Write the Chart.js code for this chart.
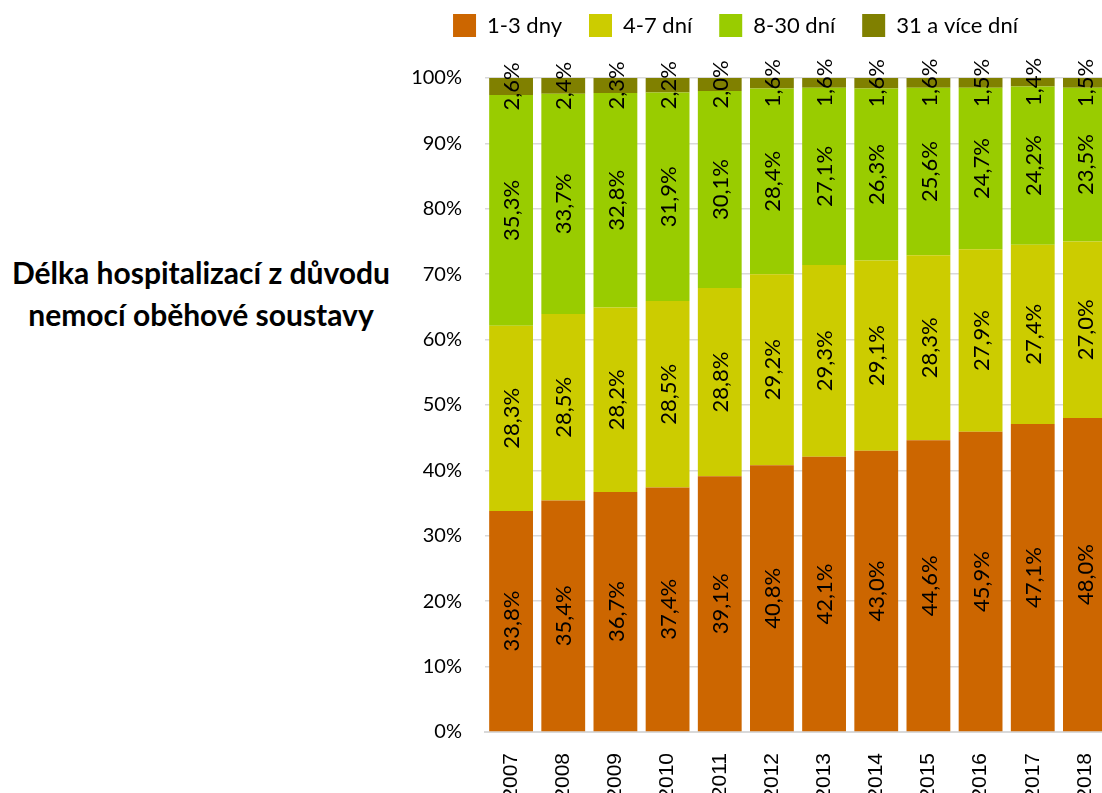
<!DOCTYPE html>
<html>
<head>
<meta charset="utf-8">
<script src="https://cdn.jsdelivr.net/npm/chart.js@4/dist/chart.umd.min.js"></script>
<style>
    body { margin: 0; background: #fff; overflow: hidden; width: 1102px; height: 793px; position: relative; }
    #wrap { position: absolute; left: 0; top: 0; width: 1140px; height: 800px; }
    #title { position: absolute; left: 0; top: 251px; width: 402px; text-align: center; font: bold 30px Lato, sans-serif; line-height: 42px; color: #000; }
</style>
</head>
<body>
<div id="title">Délka hospitalizací z důvodu<br>nemocí oběhové soustavy</div>
<div id="wrap"><canvas id="chart" width="1140" height="800"></canvas></div>
<script>
const years = ['2007', '2008', '2009', '2010', '2011', '2012', '2013', '2014', '2015', '2016', '2017', '2018'];
const seriesNames = ['1-3 dny', '4-7 dní', '8-30 dní', '31 a více dní'];
const den1_3 = [33.8, 35.4, 36.7, 37.4, 39.1, 40.8, 42.1, 43.0, 44.6, 45.9, 47.1, 48.0];
const den4_7 = [28.3, 28.5, 28.2, 28.5, 28.8, 29.2, 29.3, 29.1, 28.3, 27.9, 27.4, 27.0];
const den8_30 = [35.3, 33.7, 32.8, 31.9, 30.1, 28.4, 27.1, 26.3, 25.6, 24.7, 24.2, 23.5];
const den31 = [2.6, 2.4, 2.3, 2.2, 2.0, 1.6, 1.6, 1.6, 1.6, 1.5, 1.4, 1.5];
const yTicks = [0, 10, 20, 30, 40, 50, 60, 70, 80, 90, 100];

const colors = ['#CC6600', '#CCCC00', '#99CC00', '#808000'];
const values = [den1_3, den4_7, den8_30, den31];

// popisky hodnot otocene o 90 stupnu uprostred segmentu
const barLabels = {
    id: 'barLabels',
    afterDatasetsDraw(chart) {
        const ctx = chart.ctx;
        chart.data.datasets.forEach((ds, i) => {
            const meta = chart.getDatasetMeta(i);
            meta.data.forEach((bar, j) => {
                const p = bar.getProps(['x', 'y', 'base'], true);
                const txt = ds.data[j].toFixed(1).replace('.', ',') + '%';
                ctx.save();
                ctx.translate(p.x, (p.y + p.base) / 2);
                ctx.rotate(-Math.PI / 2);
                ctx.font = '22px Lato, sans-serif';
                ctx.fillStyle = '#000';
                ctx.textAlign = 'center';
                ctx.textBaseline = 'middle';
                ctx.fillText(txt, 0, 1);
                ctx.restore();
            });
        });
    }
};

// vetsi mezera pod legendou
const legendSpace = {
    id: 'legendSpace',
    beforeInit(chart) {
        const fit = chart.legend.fit;
        chart.legend.fit = function () {
            fit.bind(chart.legend)();
            this.height = 91;
        };
    }
};

new Chart(document.getElementById('chart'), {
    type: 'bar',
    data: {
        labels: years,
        datasets: seriesNames.map((name, i) => ({
            label: name,
            data: values[i],
            backgroundColor: colors[i],
            borderWidth: 0,
            categoryPercentage: 1,
            barPercentage: 0.84
        }))
    },
    options: {
        responsive: false,
        animation: false,
        devicePixelRatio: 1,
        layout: { padding: { left: 360, right: 29, top: -13, bottom: 0 } },
        plugins: {
            legend: {
                position: 'top',
                align: 'center',
                labels: {
                    boxWidth: 23,
                    boxHeight: 23,
                    padding: 27,
                    color: '#000',
                    font: { family: 'Lato', size: 22 }
                }
            },
            tooltip: { enabled: false }
        },
        scales: {
            x: {
                stacked: true,
                grid: { display: false },
                border: { display: true, color: '#d9d9d9', width: 2 },
                ticks: {
                    minRotation: 90,
                    maxRotation: 90,
                    padding: 13,
                    color: '#000',
                    font: { family: 'Liberation Sans', size: 21 }
                },
                afterFit(scale) { scale.height = 68; }
            },
            y: {
                stacked: true,
                min: 0,
                max: 100,
                afterBuildTicks(scale) { scale.ticks = yTicks.map(v => ({ value: v })); },
                grid: { color: '#d9d9d9', lineWidth: 1.5, drawTicks: false },
                border: { display: false },
                ticks: {
                    padding: 23,
                    color: '#000',
                    font: { family: 'Lato', size: 20 },
                    callback: v => v + '%'
                },
                afterFit(scale) { scale.width = 125; }
            }
        }
    },
    plugins: [barLabels, legendSpace]
});
</script>
</body>
</html>
